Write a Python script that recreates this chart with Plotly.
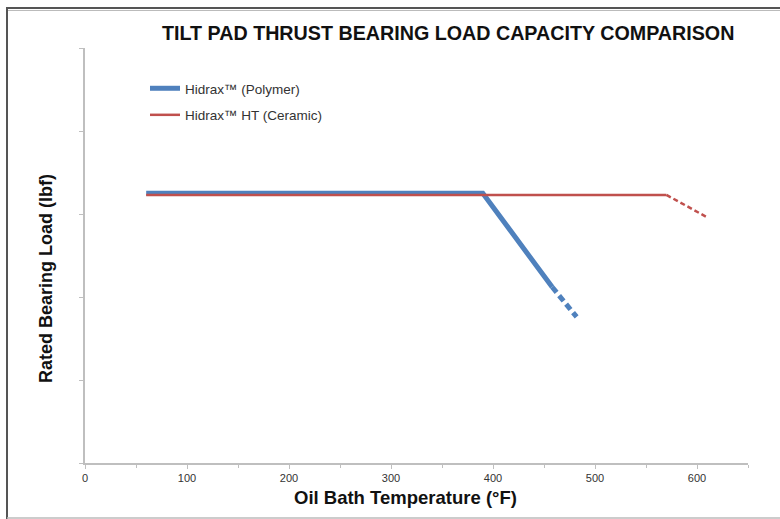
import plotly.graph_objects as go

# ---- data ----
polymer_temp_solid = [60, 390, 458]
polymer_load_solid = [3.25, 3.25, 2.12]
polymer_temp_dash = [458, 482]
polymer_load_dash = [2.12, 1.76]

ceramic_temp_solid = [60, 570]
ceramic_load_solid = [3.23, 3.23]
ceramic_temp_dash = [570, 610]
ceramic_load_dash = [3.23, 2.96]

x_tick_vals = [0, 100, 200, 300, 400, 500, 600]
x_tick_text = ["0", "100", "200", "300", "400", "500", "600"]

BLUE = "#4F81BD"
RED = "#C0504D"
FONT = "Liberation Sans, Arial, sans-serif"

# plot-area pixel geometry
W, H = 780, 519
L, R, T, B = 85, 32, 48, 56
PW = W - L - R
PH = H - T - B


def px(x):
    return (x - L) / PW


def py(y):
    return (H - B - y) / PH


fig = go.Figure()
fig.add_trace(go.Scatter(x=polymer_temp_solid, y=polymer_load_solid, mode="lines",
                         name="Hidrax™ (Polymer)", legendgroup="a",
                         line=dict(color=BLUE, width=5)))
fig.add_trace(go.Scatter(x=ceramic_temp_solid, y=ceramic_load_solid, mode="lines",
                         name="Hidrax™ HT (Ceramic)", legendgroup="b",
                         line=dict(color=RED, width=2.5)))
fig.add_trace(go.Scatter(x=polymer_temp_dash, y=polymer_load_dash, mode="lines",
                         showlegend=False, legendgroup="a",
                         line=dict(color=BLUE, width=5, dash="7px,4px")))
fig.add_trace(go.Scatter(x=ceramic_temp_dash, y=ceramic_load_dash, mode="lines",
                         showlegend=False, legendgroup="b",
                         line=dict(color=RED, width=2.5, dash="5px,3px")))

fig.update_layout(
    width=W, height=H,
    margin=dict(l=L, r=R, t=T, b=B),
    paper_bgcolor="white", plot_bgcolor="white",
    font=dict(family=FONT, color="#222222"),
    showlegend=True,
    legend=dict(x=px(145), y=py(73), xanchor="left", yanchor="top",
                bgcolor="rgba(0,0,0,0)", font=dict(size=13.5, color="#333333"),
                itemwidth=30, tracegroupgap=6),
    xaxis=dict(range=[0, 650], tickmode="array", tickvals=x_tick_vals, ticktext=x_tick_text,
               showgrid=False, zeroline=False, showline=True, linecolor="#BFBFBF", linewidth=2,
               ticks="outside", ticklen=4, tickcolor="#BFBFBF",
               tickfont=dict(size=11, color="#333333"),
               minor=dict(dtick=50, ticks="outside", ticklen=3, tickcolor="#BFBFBF", showgrid=False)),
    yaxis=dict(range=[0, 5], dtick=1, showticklabels=False, showgrid=False, zeroline=False,
               showline=True, linecolor="#BFBFBF", linewidth=2,
               ticks="outside", ticklen=4, tickcolor="#BFBFBF"),
    annotations=[
        dict(text="<b>TILT PAD THRUST BEARING LOAD CAPACITY COMPARISON</b>", xref="paper", yref="paper",
             x=px(448), y=py(33), xanchor="center", yanchor="middle", showarrow=False,
             font=dict(size=19.7, color="#111111", family=FONT)),
        dict(text="<b>Oil Bath Temperature (°F)</b>", xref="paper", yref="paper",
             x=px(405), y=py(497), xanchor="center", yanchor="middle", showarrow=False,
             font=dict(size=18.5, color="#111111", family=FONT)),
        dict(text="<b>Rated Bearing Load (lbf)</b>", xref="paper", yref="paper",
             x=px(46), y=py(279), xanchor="center", yanchor="middle", showarrow=False,
             textangle=-90, font=dict(size=18, color="#111111", family=FONT)),
    ],
    shapes=[
        dict(type="line", xref="paper", yref="paper", x0=px(7), x1=px(780), y0=py(8), y1=py(8),
             line=dict(color="#555555", width=2)),
        dict(type="line", xref="paper", yref="paper", x0=px(7), x1=px(780), y0=py(10.5), y1=py(10.5),
             line=dict(color="#BBBBBB", width=1)),
        dict(type="line", xref="paper", yref="paper", x0=px(7), x1=px(7), y0=py(7), y1=py(519),
             line=dict(color="#555555", width=2)),
        dict(type="line", xref="paper", yref="paper", x0=px(7), x1=px(780), y0=py(518), y1=py(518),
             line=dict(color="#BBBBBB", width=1.5)),
    ],
)

fig.write_html("out.html", config={"displayModeBar": False},
               post_script="document.body.style.margin='0px';"
                           "document.body.style.overflow='hidden';"
                           "document.documentElement.style.overflow='hidden';")
